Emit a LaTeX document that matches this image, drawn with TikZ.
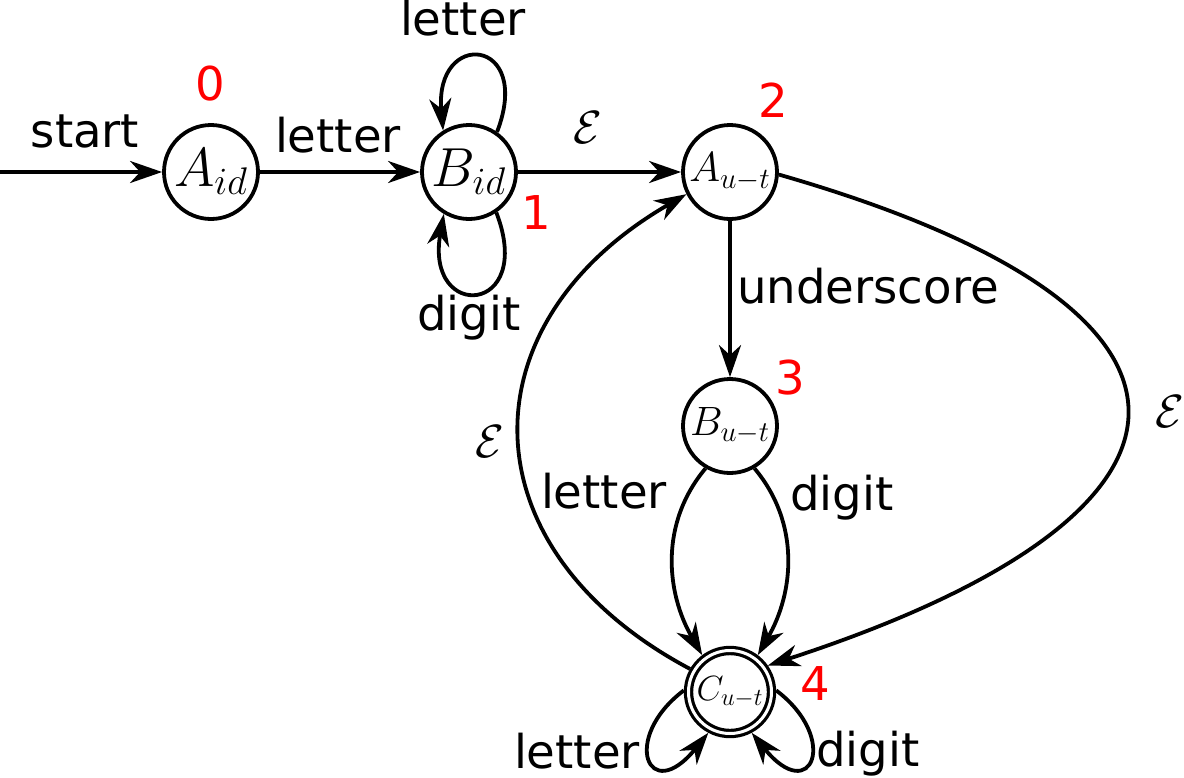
\RequirePackage{fix-cm}
\documentclass[tikz,border=0pt]{standalone}
\usepackage{fontspec}
\setmainfont{DejaVu Sans}
\usetikzlibrary{arrows.meta}
\begin{document}
\begin{tikzpicture}[x=0.5pt,y=0.5pt, line width=1.9pt,
  >={Stealth[length=16pt,width=11pt,inset=5pt]},
  state/.style={circle,draw,minimum size=47pt,inner sep=0pt},
  lbl/.style={font=\fontsize{23.3}{27}\selectfont, anchor=base, inner sep=0pt},
  num/.style={font=\fontsize{23.3}{27}\selectfont, text=red, inner sep=0pt},
]
\useasboundingbox (0,0) rectangle (1184,-777);

\node[state] (Aid) at (211,-172) {\fontsize{27.5}{32}\selectfont$A_{id}$};
\node[state] (Bid) at (469,-172) {\fontsize{27.5}{32}\selectfont$B_{id}$};
\node[state] (Aut) at (730,-172) {\fontsize{21}{25}\selectfont$A_{u-t}$};
\node[state] (But) at (730,-426) {\fontsize{20.5}{24}\selectfont$B_{u-t}$};
\node[state, minimum size=41.5pt, double, double distance=1.5pt, line width=1.6pt, outer sep=2.35pt] (C) at (730,-692) {\fontsize{17.5}{20}\selectfont$C_{u-t}$};

\coordinate (s) at (0,-172);
\draw[->] (s) -- (Aid);
\draw[->] (Aid) -- (Bid);
\draw[->] (Bid) -- (Aut);
\draw[->] (Aut) -- (But);
\draw[->] (Bid.55) to[out=69,in=95,distance=51pt] (Bid.122);
\draw[->] (Bid.-56) to[out=-69,in=-100,distance=55pt] (Bid.-121);
\draw[->] (Aut.-3) to[out=-16,in=18,distance=246pt] (C.35);
\draw[->] (C.150) to[out=152,in=210,out distance=128pt,in distance=129pt] (Aut.207);
\draw[->] (But.-120) to[out=230,in=120,distance=36pt] (C.127);
\draw[->] (But.-60) to[out=-50,in=60,distance=36pt] (C.53);
\draw[->] (C.178) to[out=217,in=231,out distance=40pt,in distance=47.5pt] (C.-118);
\draw[->] (C.2) to[out=-37,in=-51,out distance=40pt,in distance=47.5pt] (C.-62);

\node[lbl] (lstart) at (85,-147) {start};
\node[lbl] (lAB) at (338,-152) {letter};
\node[lbl] (lBtop) at (463,-35) {letter};
\node[lbl] (lBbot) at (469,-330) {digit};
\node[lbl] (le1) at (588,-143) {$\mathcal{E}$};
\node[lbl] (lus) at (868,-303) {underscore};
\node[lbl] (leR) at (1170,-427) {$\mathcal{E}$};
\node[lbl] (lBCd) at (842,-510) {digit};
\node[lbl] (lBCl) at (604,-508) {letter};
\node[lbl] (leL) at (490,-457) {$\mathcal{E}$};
\node[lbl] (lCl) at (577,-768) {letter};
\node[lbl] (lCd) at (868,-766) {digit};

\node[num] (n0) at (210,-84) {0};
\node[num] (n1) at (536,-213) {1};
\node[num] (n2) at (773,-100) {2};
\node[num] (n3) at (790,-378) {3};
\node[num] (n4) at (815,-684) {4};
\end{tikzpicture}
\end{document}
